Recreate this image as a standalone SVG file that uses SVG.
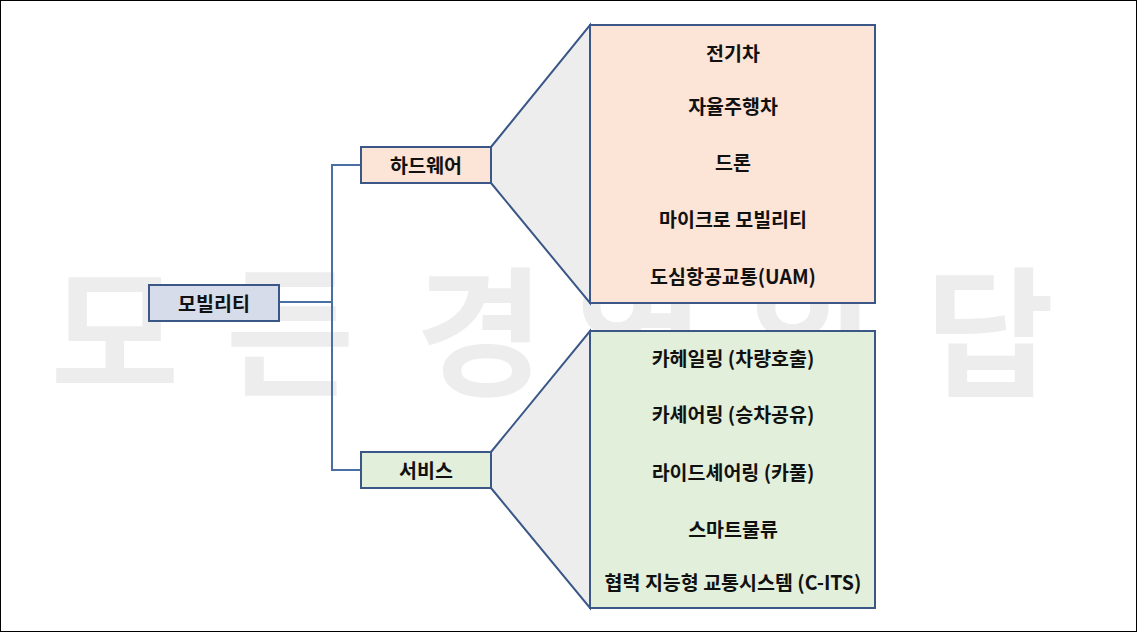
<svg xmlns="http://www.w3.org/2000/svg" width="1137" height="632" viewBox="0 0 1137 632">
<style>
.wm{font-family:"Noto Sans CJK KR",sans-serif;font-size:140px;font-weight:700;fill:#ededed;text-anchor:middle}
.t{font-family:"Noto Sans CJK KR",sans-serif;font-size:19.5px;font-weight:700;fill:#111;text-anchor:middle;dominant-baseline:central}
.b{stroke:#3a5787;stroke-width:2}
.fan{fill:#ededed;stroke:#3a5787;stroke-width:2}
</style>
<rect x="0.5" y="0.5" width="1136" height="631" fill="#fff" stroke="#000"/>
<g id="watermark">
<text class="wm" x="115" y="385">모</text><text class="wm" x="290" y="385">든</text>
<text class="wm" x="480" y="385">경</text><text class="wm" x="640" y="385">영</text>
<text class="wm" x="810" y="385">의</text><text class="wm" x="990" y="385">답</text>
</g>
<g id="connectors">
<polyline points="279,302 332,302" fill="none" stroke="#4a6fa5" stroke-width="2"/>
<polyline points="361,165 332,165 332,470 361,470" fill="none" stroke="#4a6fa5" stroke-width="2"/>
<path class="fan" d="M491,147 L590,25 L590,303 L491,183"/>
<path class="fan" d="M491,452 L590,331 L590,608 L491,488"/>
</g>
<g id="mobility"><rect class="b" x="149" y="285" width="130" height="36" fill="#d6dcea"/><text class="t" x="214" y="302">모빌리티</text></g>
<g id="hardware"><rect class="b" x="361" y="147" width="130" height="36" fill="#fce4d6"/><text class="t" x="426" y="164">하드웨어</text></g>
<g id="service"><rect class="b" x="361" y="452" width="130" height="36" fill="#e2efda"/><text class="t" x="426" y="469">서비스</text></g>
<g id="hardware-list"><rect class="b" x="590" y="25" width="285" height="278" fill="#fce4d6"/>
<text class="t" x="733" y="52">전기차</text><text class="t" x="733" y="105">자율주행차</text><text class="t" x="733" y="161">드론</text><text class="t" x="733" y="218">마이크로 모빌리티</text><text class="t" x="733" y="275">도심항공교통(UAM)</text></g>
<g id="service-list"><rect class="b" x="590" y="331" width="285" height="277" fill="#e2efda"/>
<text class="t" x="733" y="357">카헤일링 (차량호출)</text><text class="t" x="733" y="413">카셰어링 (승차공유)</text><text class="t" x="733" y="471">라이드셰어링 (카풀)</text><text class="t" x="733" y="528">스마트물류</text><text class="t" x="733" y="581">협력 지능형 교통시스템 (C-ITS)</text></g>
</svg>
